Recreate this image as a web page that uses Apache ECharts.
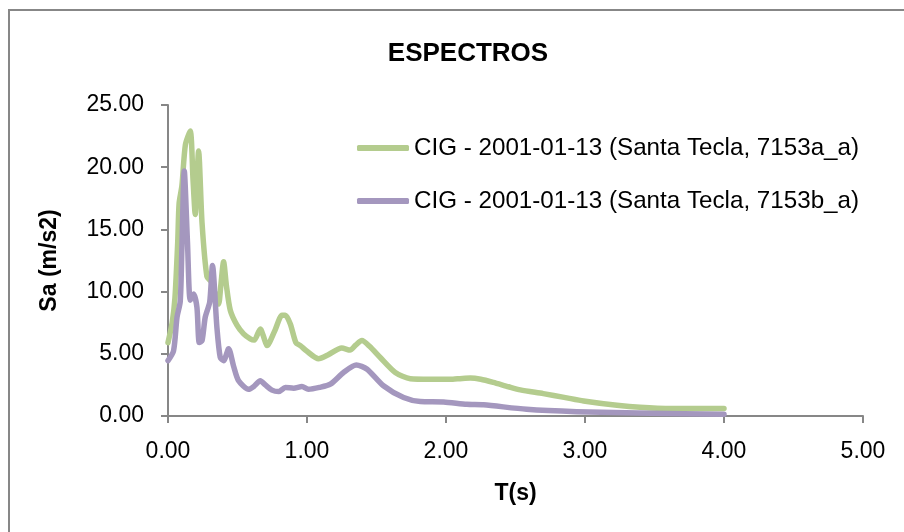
<!DOCTYPE html>
<html>
<head>
<meta charset="utf-8">
<script src="https://cdn.jsdelivr.net/npm/echarts@6/dist/echarts.min.js"></script>
<style>
  html, body { margin: 0; padding: 0; background: #fff; }
  #chart { width: 904px; height: 532px; }
</style>
</head>
<body>
<div id="chart"></div>
<script>
// Response spectra, Santa Tecla station, 2001-01-13 event
const seriesNames = [
  'CIG - 2001-01-13 (Santa Tecla, 7153a_a)',
  'CIG - 2001-01-13 (Santa Tecla, 7153b_a)'
];

// Component a: period (s) and spectral acceleration (m/s2)
const periodA = [0, 0.03, 0.05, 0.07, 0.08, 0.10, 0.125, 0.16, 0.18, 0.196, 0.21, 0.22, 0.245, 0.28, 0.31, 0.34, 0.364, 0.38, 0.40, 0.42, 0.448, 0.496, 0.544, 0.592, 0.62, 0.664, 0.69, 0.712, 0.77, 0.82, 0.844, 0.88, 0.92, 0.952, 1.0, 1.083, 1.15, 1.25, 1.31, 1.35, 1.395, 1.45, 1.527, 1.635, 1.743, 1.887, 2.05, 2.1, 2.175, 2.25, 2.34, 2.45, 2.535, 2.70, 2.85, 2.99, 3.23, 3.52, 3.75, 4.0];
const saA     = [5.9, 7.5, 9.5, 14.0, 17.1, 18.5, 21.8, 22.9, 19.0, 16.2, 19.5, 21.3, 15.5, 11.2, 10.8, 9.8, 9.0, 10.5, 12.4, 10.5, 8.5, 7.3, 6.6, 6.2, 6.1, 7.0, 6.3, 5.66, 6.9, 8.1, 8.1, 7.4, 5.9, 5.66, 5.2, 4.6, 4.9, 5.47, 5.3, 5.7, 6.06, 5.6, 4.7, 3.5, 3.0, 2.96, 2.96, 3.0, 3.05, 2.95, 2.7, 2.35, 2.1, 1.8, 1.5, 1.2, 0.86, 0.62, 0.6, 0.6];

// Component b: period (s) and spectral acceleration (m/s2)
const periodB = [0, 0.04, 0.065, 0.088, 0.10, 0.117, 0.14, 0.16, 0.184, 0.208, 0.225, 0.245, 0.268, 0.30, 0.32, 0.352, 0.376, 0.40, 0.436, 0.472, 0.508, 0.58, 0.62, 0.664, 0.70, 0.748, 0.796, 0.844, 0.904, 0.964, 1.01, 1.09, 1.168, 1.263, 1.355, 1.43, 1.55, 1.695, 1.815, 1.983, 2.15, 2.27, 2.58, 2.94, 3.47, 4.0];
const saB     = [4.45, 5.25, 7.95, 9.2, 13.5, 19.7, 14.0, 9.3, 9.8, 8.75, 5.9, 6.06, 7.95, 9.16, 12.1, 7.1, 4.7, 4.45, 5.4, 4.0, 2.83, 2.15, 2.4, 2.83, 2.5, 2.08, 1.96, 2.29, 2.24, 2.37, 2.15, 2.3, 2.56, 3.5, 4.1, 3.78, 2.43, 1.48, 1.16, 1.13, 0.94, 0.9, 0.54, 0.35, 0.22, 0.15];

const xTicks = [0, 1, 2, 3, 4, 5];
const yTicks = [0, 5, 10, 15, 20, 25];

const lineColors = ['#B4CC8E', '#A497BE'];
const font = '"Liberation Sans", Arial, sans-serif';

const pairs = (xs, ys) => xs.map((x, i) => [x, ys[i]]);

const chart = echarts.init(document.getElementById('chart'), null, { renderer: 'canvas' });
chart.setOption({
  animation: false,
  backgroundColor: '#ffffff',
  textStyle: { fontFamily: font },
  title: {
    text: 'ESPECTROS',
    left: 463,
    top: 36,
    textAlign: 'center',
    textStyle: { fontSize: 26, fontWeight: 'bold', color: '#000', fontFamily: font }
  },
  graphic: [{
    type: 'rect',
    shape: { x: 9, y: 10, width: 1000, height: 1000 },
    style: { fill: 'none', stroke: '#878787', lineWidth: 2 },
    silent: true,
    z: -1
  }],
  legend: {
    orient: 'vertical',
    left: 352,
    top: 131,
    itemGap: 29,
    itemWidth: 52,
    itemHeight: 6,
    icon: 'roundRect',
    textStyle: { fontSize: 24.2, color: '#000', fontFamily: font },
    data: seriesNames
  },
  grid: { left: 168, right: 41, top: 105, bottom: 116, containLabel: false },
  xAxis: {
    type: 'value',
    min: xTicks[0],
    max: xTicks[xTicks.length - 1],
    interval: 1,
    name: 'T(s)',
    nameLocation: 'middle',
    nameGap: 66,
    nameTextStyle: { fontSize: 23, fontWeight: 'bold', color: '#000', fontFamily: font },
    axisLine: { lineStyle: { color: '#878787', width: 2 } },
    axisTick: { show: true, length: 7, lineStyle: { color: '#878787', width: 2 } },
    axisLabel: { fontSize: 23, color: '#000', margin: 24, formatter: v => v.toFixed(2) },
    splitLine: { show: false }
  },
  yAxis: {
    type: 'value',
    min: yTicks[0],
    max: yTicks[yTicks.length - 1],
    interval: 5,
    name: 'Sa (m/s2)',
    nameLocation: 'middle',
    nameGap: 107,
    nameRotate: 90,
    nameTextStyle: { fontSize: 23, fontWeight: 'bold', color: '#000', fontFamily: font },
    axisLine: { show: true, lineStyle: { color: '#878787', width: 2 } },
    axisTick: { show: true, length: 7, lineStyle: { color: '#878787', width: 2 } },
    axisLabel: { fontSize: 23, color: '#000', margin: 24, formatter: v => v.toFixed(2) },
    splitLine: { show: false }
  },
  series: [
    {
      name: seriesNames[0],
      type: 'line',
      data: pairs(periodA, saA),
      showSymbol: false,
      symbol: 'none',
      smooth: 0.25,
      color: lineColors[0],
      lineStyle: { width: 5.5, color: lineColors[0], cap: 'round', join: 'round' },
      z: 2
    },
    {
      name: seriesNames[1],
      type: 'line',
      data: pairs(periodB, saB),
      showSymbol: false,
      symbol: 'none',
      smooth: 0.25,
      color: lineColors[1],
      lineStyle: { width: 5.5, color: lineColors[1], cap: 'round', join: 'round' },
      z: 3
    }
  ]
});
</script>
</body>
</html>
